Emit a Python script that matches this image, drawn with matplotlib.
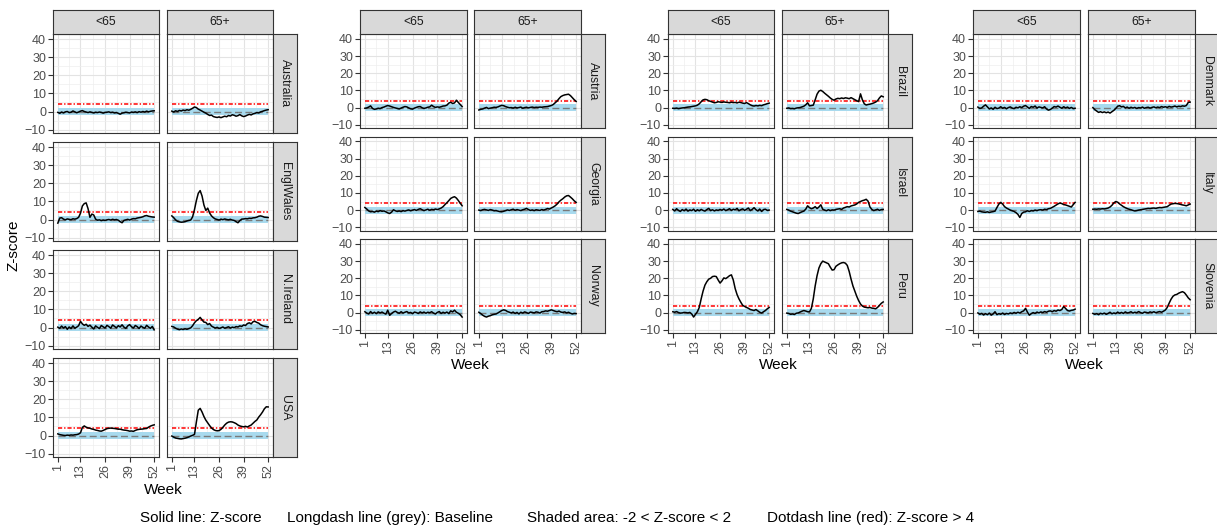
import numpy as np
import matplotlib
matplotlib.use("Agg")
import matplotlib.pyplot as plt

plt.rcParams['font.family'] = ['Liberation Sans', 'DejaVu Sans']
plt.rcParams['lines.scale_dashes'] = False

# ---- data: weekly Z-scores (weeks 1..52) ----
weeks = list(range(1, 53))
age_groups = ['<65', '65+']
baseline = 0
band_lo, band_hi = -2, 2
threshold = 4

australia_u65 = [-0.5,-1.0,-0.3,-0.8,-0.2,0.0,-0.6,-0.4,0.3,-0.2,-0.7,-0.3,0.2,
                 0.5,0.0,-0.3,-0.6,-0.2,-0.5,-0.8,-0.4,-0.6,-0.3,-0.5,-0.9,-0.5,
                 -0.4,-0.2,-0.6,-0.4,-0.8,-0.6,-1.0,-1.5,-0.9,-0.7,-0.4,-0.6,-0.8,
                 -0.3,-0.5,-0.2,-0.6,-0.1,-0.4,0.0,-0.3,0.2,-0.2,0.1,0.3,0.4]
australia_65 = [0.2,-0.3,0.4,0.0,0.6,0.3,0.8,0.5,1.0,0.7,1.2,1.8,2.5,
                2.2,1.3,0.8,0.2,-0.4,-0.9,-1.6,-2.2,-2.0,-2.8,-3.1,-3.3,-3.0,
                -3.4,-3.0,-2.6,-2.9,-2.2,-2.5,-1.8,-2.1,-2.6,-2.3,-1.7,-2.4,-2.8,
                -2.5,-2.0,-1.6,-1.9,-1.3,-1.0,-0.6,-0.8,-0.2,0.1,0.5,0.8,1.0]
englwales_u65 = [-2.0,0.8,1.0,0.2,-0.2,0.3,0.1,-0.1,0.4,0.2,0.5,1.2,3.5,
                 7.5,8.8,9.2,6.0,1.2,3.0,2.5,0.2,-0.4,-0.2,-0.6,-0.3,-0.5,
                 -0.2,0.0,-0.3,0.1,-0.2,0.0,-0.4,-1.2,-1.8,-0.5,-0.2,0.1,-0.3,
                 0.2,0.5,0.4,0.8,1.0,1.2,1.5,2.0,2.2,1.8,1.6,1.4,1.3]
englwales_65 = [2.0,1.0,-0.2,-1.0,-1.3,-1.5,-1.4,-1.2,-0.8,-0.5,-0.3,1.5,5.5,
                10.5,14.5,16.0,13.0,8.0,5.0,6.3,3.6,2.0,1.0,0.3,0.0,-0.3,
                0.2,-0.1,0.3,0.0,-0.2,0.1,-0.3,-0.5,-1.2,-1.8,-0.6,0.2,0.3,
                0.5,0.4,0.7,0.6,0.9,1.0,1.3,1.8,2.0,1.7,1.3,1.2,1.1]
nireland_u65 = [0.2,-0.5,0.8,-0.3,0.5,-1.0,0.3,-0.6,0.9,-0.4,0.2,1.0,3.4,
                2.0,1.2,1.8,0.6,1.3,0.2,-0.8,0.9,0.1,-0.6,1.1,0.4,-0.3,
                1.2,0.5,-0.4,1.4,0.6,-0.2,1.0,0.3,1.5,0.2,-0.5,0.9,1.6,
                0.4,-0.3,1.1,0.5,-0.6,0.8,0.1,-0.4,1.2,0.3,-0.5,0.6,-1.3]
nireland_65 = [0.6,0.3,-0.4,-0.9,-1.2,-0.8,-1.1,-0.7,-1.0,-0.6,-0.2,1.0,2.6,
               3.8,4.5,5.6,4.2,3.0,2.8,1.6,2.2,0.8,0.2,-0.3,0.1,-0.5,
               -0.2,0.3,-0.4,0.0,0.4,-0.3,0.2,-0.1,0.5,0.3,0.9,0.6,1.4,
               1.1,2.2,2.6,2.0,3.2,3.4,2.8,2.4,1.5,1.0,0.7,0.5,0.3]
usa_u65 = [0.9,0.5,0.3,0.1,0.0,0.2,0.1,0.3,0.2,0.4,0.5,0.8,1.5,
           4.5,5.3,4.6,4.2,4.0,3.6,3.4,3.0,2.8,2.5,2.4,2.8,3.3,
           3.8,4.0,4.1,4.0,3.9,3.7,3.5,3.5,3.2,3.0,2.9,2.7,2.4,
           2.5,2.3,2.8,3.2,3.4,3.5,3.6,3.8,3.9,4.6,5.2,5.6,5.9]
usa_65 = [-0.3,-0.9,-1.4,-1.6,-1.8,-1.9,-1.7,-1.5,-1.2,-0.8,-0.3,0.1,0.6,
          7.5,14.0,15.0,13.0,10.5,8.5,7.0,5.5,4.2,3.3,2.8,2.6,2.7,
          3.4,4.5,5.8,6.8,7.4,7.6,7.5,7.1,6.6,5.8,5.3,5.0,4.8,
          5.1,4.7,5.3,5.8,6.8,7.8,8.6,10.2,11.5,13.0,14.8,15.9,15.8]
austria_u65 = [-0.4,-0.2,0.3,1.0,-0.5,-1.0,-0.8,-0.4,-0.6,0.0,0.3,0.8,1.2,
               0.9,0.5,0.1,-0.2,-0.5,-0.8,-0.3,0.2,0.6,0.4,-0.2,-0.7,-0.9,
               -0.3,0.1,0.5,0.6,-0.1,-0.5,-0.2,0.2,0.4,1.4,0.6,0.1,0.4,
               0.2,0.5,0.9,1.0,1.4,2.6,3.1,2.4,2.7,4.3,3.0,1.8,0.6]
austria_65 = [-1.4,-1.0,-0.8,-0.3,0.1,-0.6,-0.3,-0.1,0.2,0.1,0.4,0.9,1.3,
              1.1,0.6,0.2,-0.1,0.0,-0.3,0.2,-0.2,0.0,0.3,-0.4,0.0,0.2,
              -0.2,0.1,0.3,0.0,0.2,0.1,0.3,0.2,0.4,0.5,0.6,0.9,1.2,
              1.8,2.8,3.8,5.2,6.4,7.0,7.4,7.6,7.8,7.0,5.8,4.6,3.6]
georgia_u65 = [1.5,0.6,-0.5,-1.0,-0.8,-1.2,-0.6,-0.9,-0.3,-0.7,-0.5,-1.0,-1.6,
               -2.0,-1.2,0.2,-0.4,-0.8,-0.5,-0.9,-0.3,-0.6,-0.2,0.1,-0.4,0.0,
               0.3,-0.2,0.4,0.8,0.2,-0.3,0.1,0.5,-0.1,0.4,0.2,0.6,0.3,
               0.7,1.2,2.0,3.2,4.3,5.5,6.8,7.4,7.8,7.0,5.6,4.0,2.5]
georgia_65 = [0.0,-0.3,0.2,0.4,0.1,-0.2,0.3,0.0,-0.4,-0.3,-0.6,-0.9,-1.0,
              -0.7,-0.3,0.1,-0.2,0.2,0.5,-0.1,0.3,0.0,-0.3,0.2,0.5,1.0,
              0.3,-0.2,0.1,-0.3,0.2,0.0,-0.2,0.3,0.0,0.4,0.9,0.6,1.2,
              1.8,2.5,3.5,4.8,5.8,6.6,7.6,8.3,8.5,7.6,6.6,5.4,4.5]
norway_u65 = [0.5,-0.3,-0.8,0.6,-0.5,0.2,-0.6,0.4,-0.2,0.3,-0.4,-0.9,1.4,
              -1.6,-0.5,0.3,0.8,0.1,-0.4,0.5,-0.3,0.2,0.6,-0.2,0.1,-0.6,
              0.3,0.0,-0.5,0.4,-0.2,0.3,-0.4,0.2,-0.1,0.5,-0.3,-0.8,0.1,
              0.6,-0.5,0.2,-0.3,0.3,-0.6,1.0,0.4,1.4,0.2,-0.4,-1.2,-2.6]
norway_65 = [0.2,-0.6,-1.5,-2.2,-2.6,-2.1,-1.8,-1.3,-1.0,-0.8,-0.2,0.5,1.2,
             1.6,1.3,0.6,0.2,-0.2,0.3,-0.5,0.1,-0.8,0.2,-0.3,0.4,0.0,
             -0.5,0.3,0.1,-0.2,0.4,0.2,-0.3,0.5,0.6,1.0,0.8,1.2,1.6,
             1.2,0.8,0.5,0.9,0.3,0.1,0.4,-0.2,0.2,-0.4,-0.8,-0.5,-0.6]
brazil_u65 = [-0.4,-0.5,-0.3,-0.6,-0.4,-0.2,-0.1,0.1,0.3,0.4,0.6,0.8,1.0,
              1.4,2.2,3.4,4.5,4.8,4.6,4.0,3.6,3.2,2.8,3.0,3.4,3.2,
              3.0,3.3,3.1,3.0,2.8,3.1,2.9,3.0,2.7,3.1,2.9,2.6,2.4,
              2.9,2.3,1.6,1.1,0.9,1.2,1.0,1.3,1.1,1.6,1.9,2.3,2.6]
brazil_65 = [-0.4,-0.2,-0.6,-0.5,-0.7,-0.3,-0.1,0.0,0.4,0.8,1.6,2.8,1.0,
             1.2,1.4,4.5,7.8,9.6,10.1,9.4,8.4,7.5,6.6,5.6,4.8,4.3,
             5.0,5.4,5.2,5.6,5.3,5.7,5.5,5.2,5.8,5.2,4.6,4.0,3.5,
             8.0,4.5,2.2,1.5,1.8,2.0,2.3,2.7,3.2,4.0,5.6,6.8,6.3]
israel_u65 = [0.4,-0.5,0.8,-0.2,-0.8,0.3,-0.4,0.6,-0.6,0.1,-0.3,0.5,-0.7,
              0.2,-0.4,0.4,-0.2,-0.6,0.3,1.0,-0.3,0.2,-0.5,0.1,-0.2,0.4,
              -0.1,0.6,-0.3,0.2,0.8,-0.2,0.5,0.1,1.0,-0.4,0.3,0.7,-0.2,
              0.5,1.2,-0.3,0.4,1.4,0.2,-0.5,0.6,-0.8,0.3,0.5,-0.2,0.0]
israel_65 = [0.4,0.0,-0.6,-1.0,-1.4,-1.8,-2.0,-1.5,-1.0,-0.6,0.5,2.5,1.4,
             0.8,1.2,2.0,0.9,1.8,3.1,0.5,0.0,-0.4,0.2,-0.3,0.1,0.0,
             0.4,0.6,0.8,0.4,1.2,1.6,2.0,1.8,2.4,2.7,3.0,3.6,4.5,
             5.0,5.5,5.8,6.3,5.2,1.8,0.4,-0.3,0.1,0.5,-0.2,0.3,0.4]
peru_u65 = [0.5,0.2,0.6,0.0,-0.3,-0.2,0.1,0.0,-0.2,0.1,-0.8,-2.6,-1.0,
            0.5,3.0,8.0,12.5,16.0,18.0,19.5,20.0,21.0,21.2,21.0,19.0,17.2,
            18.5,20.2,19.8,20.6,21.5,22.0,19.0,14.0,10.5,8.0,6.0,4.2,3.6,
            3.0,2.5,1.8,1.5,1.2,1.8,1.0,0.2,-0.3,0.5,1.2,2.2,3.0]
peru_65 = [-0.3,-0.5,-1.0,-0.8,-1.1,-0.4,-0.2,0.3,0.8,1.2,0.9,0.5,0.4,
           2.5,8.0,15.5,21.5,26.0,28.5,30.0,29.5,29.0,28.5,26.5,24.8,25.0,
           27.0,27.8,28.5,29.0,29.2,28.8,27.5,24.0,19.5,15.5,12.5,9.5,7.0,
           5.0,3.8,3.2,3.0,2.8,3.0,2.6,2.5,2.2,3.0,4.2,5.4,6.2]
denmark_u65 = [0.3,-0.5,-0.2,0.8,1.6,0.4,-0.8,-0.2,-1.0,0.2,-0.6,-0.3,0.5,
               -0.4,0.1,-0.7,0.0,0.4,-0.3,-0.6,0.2,-0.2,0.5,0.0,0.8,1.2,
               0.3,-0.5,0.6,0.2,0.9,-0.3,0.4,0.1,-0.2,0.5,-0.8,-1.5,-1.1,
               -0.3,0.6,0.3,0.9,0.2,-0.4,0.5,-0.2,0.3,-0.5,0.1,-0.6,-0.4]
denmark_65 = [0.0,-1.2,-2.0,-2.8,-2.4,-2.9,-2.5,-3.0,-2.6,-3.2,-2.4,-1.6,-0.5,
              0.8,1.1,0.4,0.7,-0.2,0.3,-0.4,0.2,-0.3,0.1,-0.5,0.0,-0.2,
              0.3,-0.4,0.0,0.2,-0.3,0.1,0.4,-0.1,0.3,0.0,0.6,0.2,0.5,
              0.1,0.7,0.3,0.5,0.9,0.4,0.8,0.6,1.0,0.8,1.2,3.0,3.2]
italy_u65 = [-0.8,-0.6,-1.0,-1.2,-1.3,-1.0,-1.4,-1.1,-0.9,-0.6,1.5,3.5,4.5,
             3.5,2.0,1.2,0.6,0.0,-0.4,-0.8,-1.5,-2.5,-4.3,-2.0,-1.2,-1.0,
             -0.4,-0.8,-0.3,-0.5,0.0,-0.3,0.1,0.2,0.0,0.5,0.3,0.8,1.0,
             1.6,2.2,2.9,3.6,4.1,3.8,3.2,3.0,2.6,2.2,1.8,3.2,4.5]
italy_65 = [0.5,0.6,0.5,0.7,0.6,0.8,0.7,0.9,1.2,1.8,2.8,4.2,5.0,
            4.6,3.6,2.8,2.0,1.4,0.9,0.5,0.2,-0.2,-0.5,-0.3,0.0,0.2,
            0.4,0.6,0.8,1.0,0.9,1.1,1.2,1.0,1.3,1.5,1.4,1.6,1.8,
            2.0,2.8,3.5,3.7,3.9,3.8,3.6,3.3,3.0,2.8,2.5,3.0,3.5]
slovenia_u65 = [-0.2,-1.0,-0.5,-1.4,-0.6,-1.2,-0.3,-1.5,-0.8,0.5,-1.2,-0.6,-1.0,
                -0.3,-1.1,-0.5,-0.8,-0.2,-0.6,0.1,-0.4,0.2,-0.3,0.5,1.0,2.5,
                0.2,-1.5,-0.6,0.0,-0.5,0.3,-0.2,0.4,0.0,0.6,0.2,0.8,1.0,
                0.5,1.2,0.8,1.5,1.2,1.8,3.5,2.4,1.2,0.9,1.3,1.5,2.0]
slovenia_65 = [-0.5,-1.0,-0.6,-1.2,-0.4,-0.8,-0.3,-1.0,-0.5,0.2,-0.7,-0.2,-0.6,
               0.3,-0.4,0.1,-0.5,0.4,-0.2,0.0,0.5,-0.3,0.2,-0.1,0.6,0.0,
               -0.4,0.3,0.1,-0.2,0.4,0.0,0.5,-0.1,0.3,0.6,0.2,0.8,1.5,
               3.0,5.5,7.8,9.5,10.3,10.6,11.3,11.8,12.2,11.6,10.2,8.6,7.5]

zscores = {
    'Australia': (australia_u65, australia_65),
    'EnglWales': (englwales_u65, englwales_65),
    'N.Ireland': (nireland_u65, nireland_65),
    'USA': (usa_u65, usa_65),
    'Austria': (austria_u65, austria_65),
    'Georgia': (georgia_u65, georgia_65),
    'Norway': (norway_u65, norway_65),
    'Brazil': (brazil_u65, brazil_65),
    'Israel': (israel_u65, israel_65),
    'Peru': (peru_u65, peru_65),
    'Denmark': (denmark_u65, denmark_65),
    'Italy': (italy_u65, italy_65),
    'Slovenia': (slovenia_u65, slovenia_65),
}

x_breaks = [1, 13, 26, 39, 52]
y_breaks = [-10, 0, 10, 20, 30, 40]

# ---- layout (pixels) ----
W, H = 1217, 532
fig = plt.figure(figsize=(W / 100, H / 100), dpi=100)
fig.patch.set_facecolor('white')

def rect(x, y, w, h):
    return [x / W, 1 - (y + h) / H, w / W, h / H]

groups = [
    dict(countries=['Australia', 'EnglWales', 'N.Ireland', 'USA'], x0=53, pw=106, gap=8, rh=99, rg=9, week_y=490),
    dict(countries=['Austria', 'Georgia', 'Norway'], x0=360, pw=107, gap=7, rh=94, rg=8.5, week_y=365),
    dict(countries=['Brazil', 'Israel', 'Peru'], x0=668, pw=106, gap=8, rh=94, rg=8.5, week_y=365),
    dict(countries=['Denmark', 'Italy', 'Slovenia'], x0=973, pw=107, gap=8, rh=94, rg=8.5, week_y=365),
]
top = 34
strip_h = 24
strip_w = 24
edge = '#333333'
strip_fill = '#D9D9D9'

def strip(x, y, w, h, label, rot):
    sa = fig.add_axes(rect(x, y, w, h))
    sa.set_facecolor(strip_fill)
    sa.set_xticks([])
    sa.set_yticks([])
    for s in sa.spines.values():
        s.set_color(edge)
        s.set_linewidth(0.8)
    sa.text(0.5, 0.5, label, rotation=rot, ha='center', va='center',
            fontsize=8.8, color='#1A1A1A', transform=sa.transAxes)

for g in groups:
    n = len(g['countries'])
    for r, country in enumerate(g['countries']):
        y = top + r * (g['rh'] + g['rg'])
        for c in range(2):
            x = g['x0'] + c * (g['pw'] + g['gap'])
            ax = fig.add_axes(rect(x, y, g['pw'], g['rh']))
            vals = zscores[country][c]
            wk = np.arange(1, len(vals) + 1)
            ax.fill_between(weeks, band_lo, band_hi, color='#A8DAEE', lw=0, zorder=1)
            ax.plot(weeks, [baseline] * len(weeks), color='#7A7A7A', lw=1.0,
                    linestyle=(0, (5, 2.5)), zorder=2)
            ax.plot(weeks, [threshold] * len(weeks), color='#FF0000', lw=1.1,
                    linestyle=(0, (3, 1.4, 1, 1.4)), zorder=3)
            ax.plot(wk, vals, color='black', lw=1.1, zorder=4)
            ax.set_xlim(-1.55, 54.55)
            ax.set_ylim(-11.9, 42.9)
            ax.set_xticks(x_breaks)
            ax.set_yticks(y_breaks)
            ax.set_xticks([7, 19.5, 32.5, 45.5], minor=True)
            ax.set_yticks([-5, 5, 15, 25, 35], minor=True)
            ax.grid(which='major', color='#E3E3E3', lw=0.8, zorder=0)
            ax.grid(which='minor', color='#EEEEEE', lw=0.5, zorder=0)
            ax.set_axisbelow(True)
            for s in ax.spines.values():
                s.set_color(edge)
                s.set_linewidth(0.8)
            ax.tick_params(which='minor', length=0)
            ax.tick_params(which='major', direction='out', length=3.5, width=0.8,
                           color=edge, labelsize=9, labelcolor='#4D4D4D', pad=1.5)
            bottom = (r == n - 1)
            ax.tick_params(axis='x', bottom=bottom, labelbottom=bottom)
            ax.tick_params(axis='y', left=(c == 0), labelleft=(c == 0))
            if bottom:
                for lab in ax.get_xticklabels():
                    lab.set_rotation(90)
                    lab.set_va('top')
                    lab.set_ha('center')
            if r == 0:
                strip(x, top - strip_h, g['pw'], strip_h, age_groups[c], 0)
            if c == 1:
                strip(x + g['pw'], y, strip_w, g['rh'], country, 270)
    x_mid = (g['x0'] + g['x0'] + 2 * g['pw'] + g['gap']) / 2
    fig.text(x_mid / W, 1 - g['week_y'] / H, 'Week', ha='center', va='center',
             fontsize=11, color='black')

fig.text(14 / W, 1 - 245 / H, 'Z-score', rotation=90, ha='center', va='center',
         fontsize=11, color='black')

caption = ['Solid line: Z-score', 'Longdash line (grey): Baseline',
           'Shaded area: -2 < Z-score < 2', 'Dotdash line (red): Z-score > 4']
cap_x = [140, 287, 527, 767]
for cx, txt in zip(cap_x, caption):
    fig.text(cx / W, 1 - 518 / H, txt, ha='left', va='center', fontsize=11, color='black')

fig.savefig('out.png', dpi=100)
